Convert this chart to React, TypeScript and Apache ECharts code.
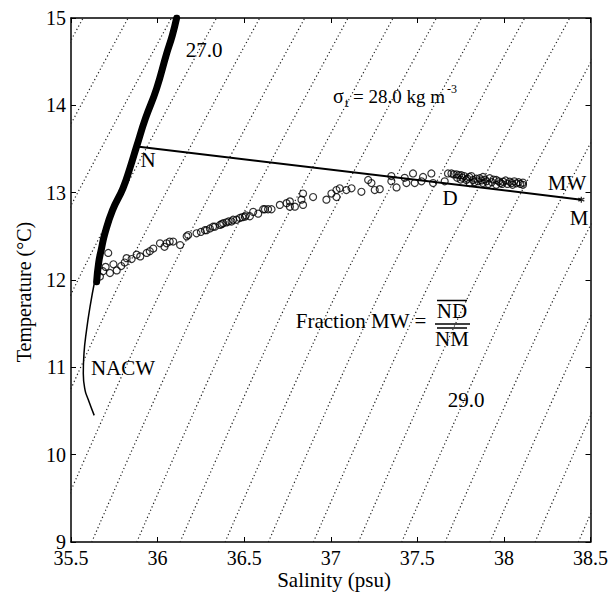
import React, { useEffect, useRef } from "react";
import * as echarts from "echarts";

// Axis ranges and ticks
const salinityRange = [35.5, 38.5];
const temperatureRange = [9, 15];
const salinityStep = 0.5;
const temperatureStep = 1;

// Isopycnal (sigma-t) lines, read as salinity at T = 9, 12 and 15 °C
const isoT = [9, 12, 15];
const isoS9 = [34.09, 34.35, 34.6, 34.86, 35.11, 35.37, 35.62, 35.88, 36.13, 36.39, 36.64, 36.9, 37.16, 37.41, 37.66, 37.92, 38.18, 38.43];
const isoS12 = [34.77, 35.03, 35.28, 35.54, 35.79, 36.05, 36.3, 36.56, 36.81, 37.07, 37.32, 37.58, 37.84, 38.09, 38.34, 38.6, 38.86, 39.11];
const isoS15 = [35.57, 35.83, 36.08, 36.34, 36.59, 36.85, 37.1, 37.36, 37.61, 37.87, 38.12, 38.38, 38.64, 38.89, 39.14, 39.4, 39.66, 39.91];

// NACW curve
const nacwS = [35.638, 35.61, 35.59, 35.575, 35.571, 35.581, 35.6, 35.634];
const nacwT = [12.0, 11.695, 11.43, 11.16, 10.93, 10.74, 10.63, 10.45];

// Dense profile band (upper water column)
const bandS = [35.648, 35.66, 35.675, 35.696, 35.74, 35.8, 35.84, 35.879, 35.93, 35.994, 36.052, 36.085, 36.11];
const bandT = [11.98, 12.2, 12.35, 12.535, 12.8, 13.05, 13.28, 13.53, 13.85, 14.19, 14.59, 14.8, 15.0];

// Observed samples (open circles)
const obsS = [
  35.667, 35.685, 35.7, 35.725, 35.745, 35.764, 35.715, 35.79, 35.81, 35.821, 35.85, 35.879, 35.9, 35.937, 35.955, 35.975,
  36.014, 36.04, 36.052, 36.07, 36.09, 36.13, 36.168, 36.177, 36.225, 36.25, 36.273, 36.283, 36.302, 36.32, 36.331, 36.36,
  36.37, 36.379, 36.398, 36.41, 36.427, 36.436, 36.456, 36.475, 36.49, 36.504, 36.51, 36.533, 36.552, 36.581, 36.61, 36.62,
  36.638, 36.658, 36.706, 36.745, 36.764, 36.764, 36.793, 36.831, 36.84, 36.84, 36.898, 36.975, 37.004, 37.033, 37.052, 37.033,
  37.09, 37.12, 37.177, 37.216, 37.235, 37.254, 37.283, 37.35, 37.35, 37.38, 37.427, 37.437, 37.475, 37.485, 37.524, 37.533,
  37.581, 37.591, 37.658, 37.677, 37.697, 37.71, 37.726, 37.74, 37.754, 37.77, 37.783, 37.8, 37.812, 37.802, 37.822, 37.84,
  37.86, 37.87, 37.879, 37.879, 37.89, 37.9, 37.918, 37.93, 37.94, 37.956, 37.956, 37.97, 37.98, 37.995, 38.01, 38.02,
  38.033, 38.045, 38.06, 38.072, 38.085, 38.095, 38.11, 38.11, 37.73, 37.75, 37.76, 37.79, 37.83, 37.85, 37.91, 37.99, 38.05,
];
const obsT = [
  12.04, 12.1, 12.15, 12.08, 12.18, 12.11, 12.31, 12.16, 12.2, 12.25, 12.24, 12.29, 12.27, 12.31, 12.33, 12.36,
  12.42, 12.38, 12.42, 12.44, 12.44, 12.4, 12.5, 12.515, 12.535, 12.55, 12.57, 12.57, 12.59, 12.61, 12.61, 12.63,
  12.64, 12.65, 12.66, 12.67, 12.67, 12.69, 12.69, 12.71, 12.72, 12.725, 12.74, 12.73, 12.78, 12.76, 12.81, 12.81,
  12.81, 12.81, 12.86, 12.88, 12.9, 12.84, 12.84, 12.92, 12.99, 12.86, 12.95, 12.92, 12.99, 13.03, 13.05, 12.95,
  13.03, 13.05, 13.01, 13.145, 13.11, 13.03, 13.04, 13.19, 13.13, 13.06, 13.17, 13.11, 13.22, 13.11, 13.13, 13.18,
  13.22, 13.11, 13.13, 13.22, 13.22, 13.21, 13.21, 13.2, 13.2, 13.19, 13.145, 13.18, 13.19, 13.11, 13.145, 13.16,
  13.165, 13.14, 13.18, 13.11, 13.15, 13.13, 13.165, 13.12, 13.15, 13.145, 13.09, 13.13, 13.11, 13.126, 13.14, 13.1,
  13.126, 13.11, 13.13, 13.107, 13.12, 13.1, 13.09, 13.115, 13.17, 13.15, 13.17, 13.16, 13.12, 13.13, 13.1, 13.1, 13.09,
];

// Mixing line end members N and M
const mixS = [35.893, 38.447];
const mixT = [13.527, 12.92];

const SERIF = "Liberation Serif";

function txt(text: string, x: number, y: number, size = 21, align = "center", extra: any = {}) {
  return {
    type: "text",
    x,
    y,
    silent: true,
    style: {
      text,
      fill: "#000",
      fontFamily: SERIF,
      fontSize: size,
      align,
      verticalAlign: "middle",
    },
    ...extra,
  };
}

function hline(x1: number, x2: number, y: number) {
  return {
    type: "line",
    silent: true,
    shape: { x1, y1: y, x2, y2: y },
    style: { stroke: "#000", lineWidth: 1.5 },
  };
}

export default function App() {
  const ref = useRef<HTMLDivElement>(null);
  useEffect(() => {
    if (!ref.current) return;
    const chart = echarts.init(ref.current, undefined, { renderer: "svg" });

    const isoSeries = isoS9.map((s9, i) => ({
      type: "line",
      silent: true,
      clip: true,
      smooth: 0.3,
      showSymbol: false,
      symbol: "none",
      data: [
        [s9, isoT[0]],
        [isoS12[i], isoT[1]],
        [isoS15[i], isoT[2]],
      ],
      lineStyle: { color: "#222", width: 1.2, type: [1.2, 2.6] },
      z: 1,
    }));

    const axisCommon = {
      type: "value",
      axisLine: { show: true, lineStyle: { color: "#000", width: 1.5 } },
      axisTick: { show: true, inside: true, length: 5, lineStyle: { color: "#000", width: 1 } },
      splitLine: { show: false },
    };

    const option: any = {
      animation: false,
      backgroundColor: "#fff",
      textStyle: { fontFamily: SERIF },
      grid: { left: 71, top: 18, width: 520, height: 524, show: false },
      xAxis: [
        {
          ...axisCommon,
          position: "bottom",
          min: salinityRange[0],
          max: salinityRange[1],
          interval: salinityStep,
          axisLabel: { color: "#000", fontFamily: SERIF, fontSize: 20, margin: 6, formatter: (v: number) => String(v) },
        },
        {
          ...axisCommon,
          position: "top",
          min: salinityRange[0],
          max: salinityRange[1],
          interval: salinityStep,
          axisLabel: { show: false },
        },
      ],
      yAxis: [
        {
          ...axisCommon,
          position: "left",
          min: temperatureRange[0],
          max: temperatureRange[1],
          interval: temperatureStep,
          axisLabel: { color: "#000", fontFamily: SERIF, fontSize: 20, margin: 5 },
        },
        {
          ...axisCommon,
          position: "right",
          min: temperatureRange[0],
          max: temperatureRange[1],
          interval: temperatureStep,
          axisLabel: { show: false },
        },
      ],
      series: [
        ...isoSeries,
        {
          type: "line",
          silent: true,
          smooth: true,
          showSymbol: false,
          symbol: "none",
          data: nacwS.map((s, i) => [s, nacwT[i]]),
          lineStyle: { color: "#000", width: 1.5 },
          z: 3,
        },
        {
          type: "line",
          silent: true,
          smooth: true,
          clip: true,
          showSymbol: false,
          symbol: "none",
          data: bandS.map((s, i) => [s, bandT[i]]),
          lineStyle: { color: "#000", width: 7, cap: "round" },
          z: 4,
        },
        {
          type: "scatter",
          silent: true,
          symbol: "circle",
          symbolSize: 7,
          data: obsS.map((s, i) => [s, obsT[i]]),
          itemStyle: { color: "rgba(255,255,255,0)", borderColor: "#000", borderWidth: 1.2 },
          z: 5,
        },
        {
          type: "line",
          silent: true,
          showSymbol: false,
          symbol: "none",
          data: mixS.map((s, i) => [s, mixT[i]]),
          lineStyle: { color: "#000", width: 2 },
          z: 6,
        },
        {
          type: "scatter",
          silent: true,
          symbol: "path://M0,-10L0,10M-8.7,-5L8.7,5M-8.7,5L8.7,-5",
          symbolSize: 6,
          data: [[mixS[1], mixT[1]]],
          itemStyle: { color: "rgba(0,0,0,0)", borderColor: "#000", borderWidth: 1.3 },
          z: 7,
        },
      ],
      graphic: [
        txt("Temperature (°C)", 24, 292, 20, "center", { rotation: Math.PI / 2 }),
        txt("Salinity (psu)", 334, 580, 21),
        txt("27.0", 204, 50),
        txt("σ", 333, 96, 20, "left"),
        txt("t", 345, 102, 13, "left"),
        txt("= 28.0 kg m", 353, 96, 19, "left"),
        txt("-3", 447, 89, 12, "left"),
        txt("N", 148, 160),
        txt("MW", 567, 183),
        txt("M", 579, 218),
        txt("D", 450, 198),
        txt("NACW", 123, 368),
        txt("Fraction MW =", 361, 321),
        txt("ND", 452, 311),
        txt("NM", 452, 339),
        hline(437, 467, 300.5),
        hline(435, 470, 324),
        hline(437, 467, 328),
        txt("29.0", 466, 400),
      ],
    };
    chart.setOption(option);
    return () => chart.dispose();
  }, []);
  return (
    <div
      ref={ref}
      style={{ position: "absolute", left: 0, top: 0, width: 611, height: 598, background: "#fff" }}
    />
  );
}
